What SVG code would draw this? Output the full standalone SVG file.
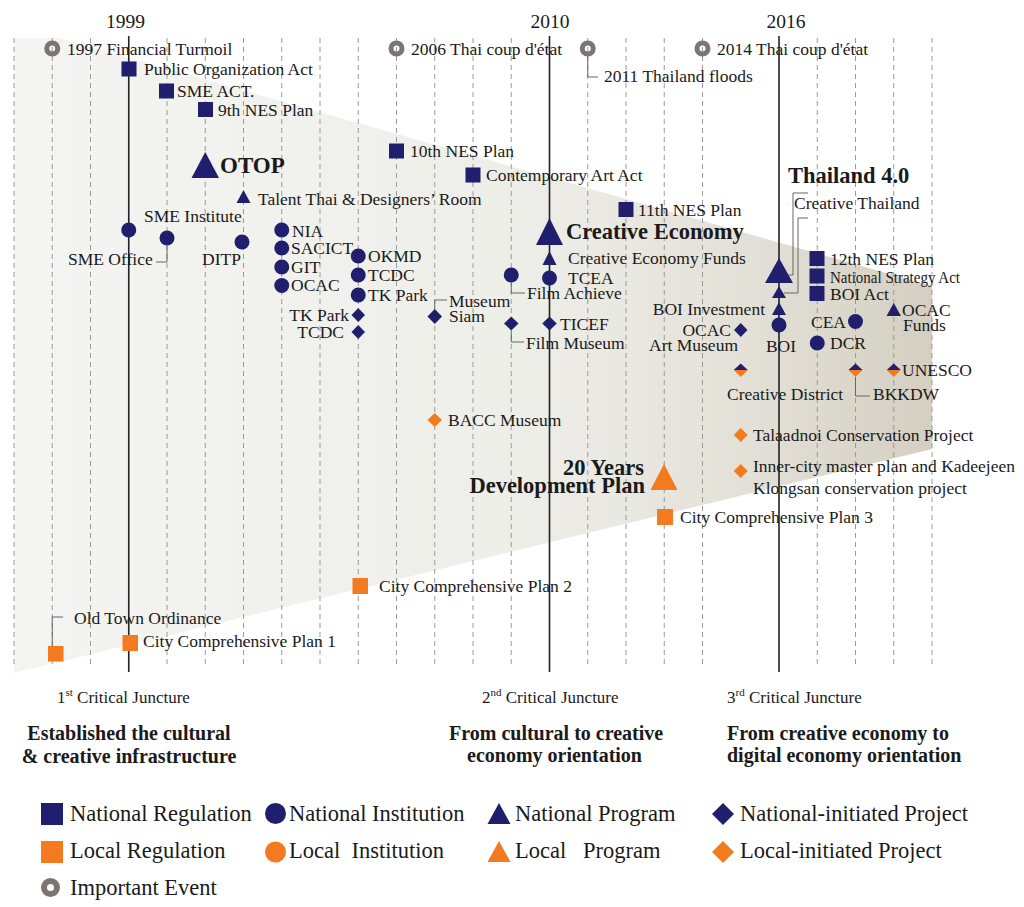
<svg xmlns="http://www.w3.org/2000/svg" width="1024" height="907" viewBox="0 0 1024 907">
<defs>
<linearGradient id="shade" x1="14" y1="0" x2="932" y2="0" gradientUnits="userSpaceOnUse">
<stop offset="0" stop-color="#f4f4f2"/>
<stop offset="0.55" stop-color="#eeeee9"/>
<stop offset="0.8" stop-color="#e3e0d7"/>
<stop offset="1" stop-color="#d4cfc1"/>
</linearGradient>
<style>
text{font-family:"Liberation Serif","Times New Roman",serif;fill:#1a1a1a}
.l{font-size:17.5px}
.b{font-weight:bold}
.y{font-size:19.5px}
.lg{font-size:22.5px}
.dash{stroke:#9a9a9a;stroke-width:1;stroke-dasharray:5 4;fill:none}
.solid{stroke:#222;stroke-width:1.6;fill:none}
.con{stroke:#666;stroke-width:1;fill:none}
.nv{fill:#1f1f6e}
.or{fill:#f47a20}
.ev{fill:none;stroke:#7c7571;stroke-width:5}
</style>
</defs>
<rect width="1024" height="907" fill="#ffffff"/>
<g id="background">
<polygon points="14,38 59,38 932,286 932,449 14,673" fill="url(#shade)"/>
</g>
<g id="grid">
<path class="dash" d="M14,38V668M52.25,38V668M90.5,38V668M167,38V668M205.25,38V668M243.5,38V668M281.75,38V668M320,38V668M358.25,38V668M396.5,38V668M434.75,38V668M473,38V668M511.25,38V668M587.75,38V668M626,38V668M664.25,38V668M702.5,38V668M817.25,38V668M855.5,38V668M893.75,38V668M932,38V668"/>
<path class="solid" d="M128.75,36V672M549.5,36V672M779,36V672"/>
<text class="y" x="125.5" y="28" text-anchor="middle">1999</text>
<text class="y" x="550" y="28" text-anchor="middle">2010</text>
<text class="y" x="786" y="28" text-anchor="middle">2016</text>
</g>
<g id="connectors">
<path class="con" d="M167,246V262H156"/>
<path class="con" d="M587.75,56V77H598"/>
<path class="con" d="M434.75,309V300H447"/>
<path class="con" d="M511.25,283V293H525"/>
<path class="con" d="M511.25,331V342H524"/>
<path class="con" d="M808,193H793V275H788"/>
<path class="con" d="M808,218H798V293H784"/>
<path class="con" d="M855.5,377V396H870"/>
<path class="con" d="M52.25,646V617H63"/>
</g>
<g id="events">
<g id="ev1997"><circle class="ev" cx="52.25" cy="48.5" r="5.5"/><text class="l" x="67" y="55">1997 Financial Turmoil</text></g>
<g id="ev2006"><circle class="ev" cx="396.5" cy="48.5" r="5.5"/><text class="l" x="411" y="55">2006 Thai coup d'état</text></g>
<g id="ev2011"><circle class="ev" cx="587.75" cy="48.5" r="5.5"/><text class="l" x="604" y="82">2011 Thailand floods</text></g>
<g id="ev2014"><circle class="ev" cx="702.5" cy="48.5" r="5.5"/><text class="l" x="717" y="55">2014 Thai coup d'état</text></g>
</g>
<g id="nodes">
<g id="n-poa"><rect class="nv" x="121.5" y="61.5" width="15" height="15"/><text class="l" x="144" y="75">Public Organization Act</text></g>
<g id="n-sme-act"><rect class="nv" x="159" y="83.5" width="15" height="15"/><text class="l" x="177" y="97">SME ACT.</text></g>
<g id="n-9nes"><rect class="nv" x="198" y="102" width="15" height="15"/><text class="l" x="218" y="116">9th NES Plan</text></g>
<g id="n-otop"><path class="nv" d="M205.25,152L219,178H191.5Z"/><text class="b" font-size="23" x="220" y="173">OTOP</text></g>
<g id="n-talent"><path class="nv" d="M243.5,190L250.5,203H236.5Z"/><text class="l" x="258" y="205">Talent Thai &amp; Designers’ Room</text></g>
<g id="n-sme-inst"><circle class="nv" cx="128.75" cy="230" r="7.5"/><text class="l" x="144" y="222">SME Institute</text></g>
<g id="n-sme-office"><circle class="nv" cx="167" cy="238" r="7.5"/><text class="l" x="68" y="265">SME Office</text></g>
<g id="n-ditp"><circle class="nv" cx="242" cy="242" r="7.5"/><text class="l" x="202" y="265">DITP</text></g>
<g id="n-nia"><circle class="nv" cx="281.75" cy="230" r="7.5"/><text class="l" x="292" y="237">NIA</text></g>
<g id="n-sacict"><circle class="nv" cx="281.75" cy="248" r="7.5"/><text class="l" x="291" y="254">SACICT</text></g>
<g id="n-git"><circle class="nv" cx="281.75" cy="267" r="7.5"/><text class="l" x="291" y="273">GIT</text></g>
<g id="n-ocac"><circle class="nv" cx="281.75" cy="285.5" r="7.5"/><text class="l" x="291" y="291">OCAC</text></g>
<g id="n-okmd"><circle class="nv" cx="358.25" cy="256" r="7.5"/><text class="l" x="368" y="262">OKMD</text></g>
<g id="n-tcdc"><circle class="nv" cx="358.25" cy="275" r="7.5"/><text class="l" x="368" y="281">TCDC</text></g>
<g id="n-tkpark"><circle class="nv" cx="358.25" cy="295" r="7.5"/><text class="l" x="368" y="301">TK Park</text></g>
<g id="n-tkpark-p"><path class="nv" d="M358.25,308L365,315L358.25,322L351.5,315Z"/><text class="l" x="349" y="321" text-anchor="end">TK Park</text></g>
<g id="n-tcdc-p"><path class="nv" d="M358.25,325L365,332L358.25,339L351.5,332Z"/><text class="l" x="344" y="338" text-anchor="end">TCDC</text></g>
<g id="n-10nes"><rect class="nv" x="389" y="143.5" width="15" height="15"/><text class="l" x="410" y="157">10th NES Plan</text></g>
<g id="n-caa"><rect class="nv" x="465.5" y="167.5" width="15" height="15"/><text class="l" x="486" y="181">Contemporary Art Act</text></g>
<g id="n-museum-siam"><path class="nv" d="M434.75,309L442,316.5L434.75,324L427.5,316.5Z"/><text class="l" x="449" y="307">Museum</text><text class="l" x="449" y="322">Siam</text></g>
<g id="n-film-achieve"><circle class="nv" cx="511.25" cy="275" r="7.5"/><text class="l" x="527" y="299">Film Achieve</text></g>
<g id="n-tcea"><circle class="nv" cx="549.5" cy="278" r="7.5"/><text class="l" x="568" y="284">TCEA</text></g>
<g id="n-film-museum"><path class="nv" d="M511.25,316.5L518.5,323.5L511.25,330.5L504,323.5Z"/><text class="l" x="526" y="349">Film Museum</text></g>
<g id="n-ticef"><path class="nv" d="M549.5,316.5L556.75,323.5L549.5,330.5L542.25,323.5Z"/><text class="l" x="560" y="330">TICEF</text></g>
<g id="n-ce"><path class="nv" d="M549.5,218L563,245H536Z"/><text class="b" font-size="22.5" x="566" y="239">Creative Economy</text></g>
<g id="n-ce-funds"><path class="nv" d="M549.5,251L556.5,265H542.5Z"/><text class="l" x="568" y="264">Creative Economy Funds</text></g>
<g id="n-11nes"><rect class="nv" x="618.5" y="202" width="15" height="15"/><text class="l" x="638" y="216">11th NES Plan</text></g>
<g id="n-bacc"><path class="or" d="M434.75,413L442,420L434.75,427L427.5,420Z"/><text class="l" x="448" y="426">BACC Museum</text></g>
<g id="n-20y"><path class="or" d="M664,464L677.5,490H650.5Z"/><text class="b" font-size="22.5" x="644" y="475" text-anchor="end">20 Years</text><text class="b" font-size="22.5" x="645" y="493" text-anchor="end">Development Plan</text></g>
<g id="n-ccp3"><rect class="or" x="657" y="509" width="16" height="16"/><text class="l" x="680" y="523">City Comprehensive Plan 3</text></g>
<g id="n-ccp2"><rect class="or" x="352.5" y="578" width="15.5" height="16"/><text class="l" x="379" y="592">City Comprehensive Plan 2</text></g>
<g id="n-ccp1"><rect class="or" x="122.5" y="635" width="15.5" height="16"/><text class="l" x="143" y="647">City Comprehensive Plan 1</text></g>
<g id="n-oldtown"><rect class="or" x="48" y="646" width="15.5" height="15.5"/><text class="l" x="74" y="624">Old Town Ordinance</text></g>
<g id="n-th40"><path class="nv" d="M779,258L793,283H765Z"/><text class="b" font-size="22.5" x="788" y="183">Thailand 4.0</text></g>
<g id="n-ct"><path class="nv" d="M779,286L786,298H772Z"/><text class="l" x="794" y="209">Creative Thailand</text></g>
<g id="n-boi-inv"><path class="nv" d="M779,302L786,315H772Z"/><text class="l" x="765" y="315" text-anchor="end">BOI Investment</text></g>
<g id="n-boi"><circle class="nv" cx="779" cy="325" r="7.5"/><text class="l" x="781" y="352" text-anchor="middle">BOI</text></g>
<g id="n-12nes"><rect class="nv" x="809.5" y="251" width="15" height="15"/><text class="l" x="830" y="265">12th NES Plan</text></g>
<g id="n-nsa"><rect class="nv" x="809.5" y="268.5" width="15" height="15"/><text class="l" x="830" y="283" textLength="130" lengthAdjust="spacingAndGlyphs">National Strategy Act</text></g>
<g id="n-boi-act"><rect class="nv" x="809.5" y="286" width="15" height="15"/><text class="l" x="830" y="300">BOI Act</text></g>
<g id="n-cea"><circle class="nv" cx="855.5" cy="321.5" r="7.5"/><text class="l" x="846" y="328" text-anchor="end">CEA</text></g>
<g id="n-dcr"><circle class="nv" cx="817.25" cy="343" r="7.5"/><text class="l" x="830" y="349">DCR</text></g>
<g id="n-ocac-funds"><path class="nv" d="M893.75,303L901,316H886.5Z"/><text class="l" x="902" y="316">OCAC</text><text class="l" x="903" y="331">Funds</text></g>
<g id="n-ocac-museum"><path class="nv" d="M740.75,323L747.5,330L740.75,337L734,330Z"/><text class="l" x="731" y="336" text-anchor="end">OCAC</text><text class="l" x="738" y="351" text-anchor="end">Art Museum</text></g>
<g id="n-cd"><path class="nv" d="M733.75,370L740.75,363.5L747.75,370Z"/><path class="or" d="M733.75,370L740.75,377L747.75,370Z"/><text class="l" x="727" y="400">Creative District</text></g>
<g id="n-bkkdw"><path class="nv" d="M848.5,370L855.5,363.5L862.5,370Z"/><path class="or" d="M848.5,370L855.5,377L862.5,370Z"/><text class="l" x="873" y="400">BKKDW</text></g>
<g id="n-unesco"><path class="nv" d="M886.75,370L893.75,363.5L900.75,370Z"/><path class="or" d="M886.75,370L893.75,377L900.75,370Z"/><text class="l" x="902" y="376">UNESCO</text></g>
<g id="n-talaadnoi"><path class="or" d="M740.75,428L747.75,435L740.75,442L733.75,435Z"/><text class="l" x="753" y="441">Talaadnoi Conservation Project</text></g>
<g id="n-innercity"><path class="or" d="M740.75,464L747.75,471L740.75,478L733.75,471Z"/><text class="l" x="753" y="472">Inner-city master plan and Kadeejeen</text><text class="l" x="753" y="494">Klongsan conservation project</text></g>
</g>
<g id="junctures">
<text font-size="17" x="57" y="703">1<tspan font-size="11" dy="-7">st</tspan><tspan dy="7"> Critical Juncture</tspan></text>
<text font-size="17" x="482" y="703">2<tspan font-size="11" dy="-7">nd</tspan><tspan dy="7"> Critical Juncture</tspan></text>
<text font-size="17" x="727" y="703">3<tspan font-size="11" dy="-7">rd</tspan><tspan dy="7"> Critical Juncture</tspan></text>
<text class="b" font-size="20" x="129" y="740" text-anchor="middle">Established the cultural</text>
<text class="b" font-size="20" x="129" y="763" text-anchor="middle">&amp; creative infrastructure</text>
<text class="b" font-size="20" x="449" y="740">From cultural to creative</text>
<text class="b" font-size="20" x="467" y="762">economy orientation</text>
<text class="b" font-size="20" x="727" y="740">From creative economy to</text>
<text class="b" font-size="20" x="727" y="762">digital economy orientation</text>
</g>
<g id="legend">
<rect class="nv" x="41" y="803" width="22" height="22"/><text class="lg" x="70" y="821">National Regulation</text>
<circle class="nv" cx="275.5" cy="813.5" r="10.5"/><text class="lg" x="289" y="821">National Institution</text>
<path class="nv" d="M499,803L510.5,824H487.5Z"/><text class="lg" x="515" y="821">National Program</text>
<path class="nv" d="M723,803L734,814L723,825L712,814Z"/><text class="lg" x="740" y="821">National-initiated Project</text>
<rect class="or" x="41" y="841" width="22" height="22"/><text class="lg" x="70" y="858">Local Regulation</text>
<circle class="or" cx="275.5" cy="852" r="10.5"/><text class="lg" x="289" y="858" xml:space="preserve">Local  Institution</text>
<path class="or" d="M499,841L510.5,862H487.5Z"/><text class="lg" x="515" y="858" xml:space="preserve">Local   Program</text>
<path class="or" d="M723,841L734,852L723,863L712,852Z"/><text class="lg" x="740" y="858">Local-initiated Project</text>
<circle cx="50.5" cy="887.5" r="6.5" fill="none" stroke="#7c7571" stroke-width="6"/><text class="lg" x="70" y="895">Important Event</text>
</g>
</svg>
